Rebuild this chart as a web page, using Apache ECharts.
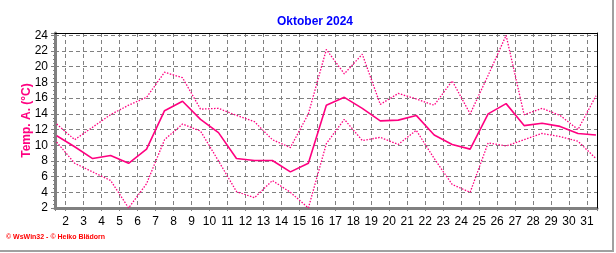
<!DOCTYPE html>
<html><head><meta charset="utf-8">
<script src="https://cdn.jsdelivr.net/npm/echarts@6/dist/echarts.min.js"></script>
<style>html,body{margin:0;padding:0;background:#fff}#c{width:616px;height:253px}</style>
</head><body><div id="c"></div>
<script>
const days = [1,2,3,4,5,6,7,8,9,10,11,12,13,14,15,16,17,18,19,20,21,22,23,24,25,26,27,28,29,30,31];
const tempMax  = [12.7,10.7,12.3,13.9,15.1,16.1,19.3,18.6,14.6,14.7,13.8,13.0,10.7,9.7,14.0,22.2,19.1,21.6,15.2,16.6,15.9,15.1,18.2,14.0,18.9,24.0,13.9,14.7,13.8,12.0,16.3];
const tempMean = [11.2,9.8,8.3,8.7,7.7,9.5,14.4,15.6,13.3,11.6,8.3,8.05,8.05,6.6,7.7,15.1,16.1,14.7,13.1,13.2,13.8,11.3,10.1,9.5,14.0,15.3,12.5,12.8,12.4,11.5,11.3];
const tempMin  = [10.4,7.7,6.6,5.5,2.0,5.1,10.7,12.7,11.8,8.0,4.1,3.3,5.5,4.0,2.0,10.2,13.3,10.6,11.0,10.1,11.9,8.3,5.0,4.0,10.3,9.9,10.7,11.5,11.1,10.5,8.3];
const xTickLabels = ['2','3','4','5','6','7','8','9','10','11','12','13','14','15','16','17','18','19','20','21','22','23','24','25','26','27','28','29','30','31'];
const yTickLabels = ['2','4','6','8','10','12','14','16','18','20','22','24'];
const titleText = 'Oktober 2024';
const yName = 'Temp. A. (°C)';
const credit = '\u00a9 WsWin32 - \u00a9 Heiko Bl\u00e4dorn';

const PINK = '#ff0080';
const GRID = '#808080';
const toPts = arr => days.map((d, i) => [d + 0.5, arr[i]]);

const chart = echarts.init(document.getElementById('c'), null, {renderer: 'canvas'});
chart.setOption({
  animation: false,
  backgroundColor: '#fff',
  textStyle: {fontFamily: 'Liberation Sans, Arial, sans-serif'},
  title: {
    text: titleText, left: 310, top: 11, textAlign: 'center',
    textStyle: {color: '#0000ff', fontSize: 12, fontWeight: 'bold', fontFamily: 'Liberation Sans, Arial, sans-serif'}
  },
  grid: {left: 55, right: 19, top: 33, bottom: 45, containLabel: false},
  xAxis: [{
    type: 'value', min: 1.406, max: 31.556, splitNumber: 30, minInterval: 1, maxInterval: 1,
    axisLine: {show: true, onZero: false, lineStyle: {color: GRID, width: 3}},
    axisTick: {show: true, length: 3, lineStyle: {color: GRID}},
    minorTick: {show: true, splitNumber: 6, length: 2, lineStyle: {color: GRID}},
    axisLabel: {
      color: '#000', fontSize: 12, margin: 8, showMinLabel: false, showMaxLabel: false,
      formatter: v => { const s = String(Math.round(v)); return (Math.abs(v - Math.round(v)) < 1e-6 && xTickLabels.indexOf(s) >= 0) ? s : ''; }
    },
    splitLine: {show: true, showMinLine: false, showMaxLine: false, lineStyle: {color: GRID, type: [4, 3], width: 1}}
  }, {
    type: 'value', position: 'top', min: 1.406, max: 31.556, z: 5,
    axisLine: {show: true, onZero: false, lineStyle: {color: '#000', width: 1}},
    axisTick: {show: false}, axisLabel: {show: false}, splitLine: {show: false}
  }],
  yAxis: [{
    type: 'value', min: 2, max: 24.3, interval: 2,
    name: yName, nameLocation: 'middle', nameGap: 22, nameRotate: 90, nameMoveOverlap: false,
    nameTextStyle: {color: PINK, fontSize: 12, fontWeight: 'bold'},
    axisLine: {show: true, onZero: false, lineStyle: {color: GRID, width: 3}},
    axisTick: {show: true, length: 4, lineStyle: {color: GRID}},
    minorTick: {show: true, splitNumber: 4, length: 2, lineStyle: {color: GRID}},
    axisLabel: {
      color: '#000', fontSize: 12, margin: 7, showMaxLabel: false,
      formatter: v => { const s = String(v); return yTickLabels.indexOf(s) >= 0 ? s : ''; }
    },
    splitLine: {show: true, showMinLine: false, showMaxLine: false, lineStyle: {color: GRID, type: [4, 3], width: 1}}
  }, {
    type: 'value', position: 'right', min: 2, max: 24.3, z: 5,
    axisLine: {show: true, onZero: false, lineStyle: {color: '#000', width: 1}},
    axisTick: {show: false}, axisLabel: {show: false}, splitLine: {show: false}
  }],
  series: [
    {type: 'line', name: 'max', data: toPts(tempMax), symbol: 'none', z: 3,
     lineStyle: {color: PINK, width: 1.3, type: [1.5, 1.5]}},
    {type: 'line', name: 'mean', data: toPts(tempMean), symbol: 'none', z: 4,
     lineStyle: {color: PINK, width: 1.6}},
    {type: 'line', name: 'min', data: toPts(tempMin), symbol: 'none', z: 3,
     lineStyle: {color: PINK, width: 1.3, type: [1.5, 1.5]}}
  ],
  graphic: [
    {type: 'text', left: 6, top: 234, style: {text: credit, fill: '#ff0000', font: 'bold 7px Liberation Sans, Arial, sans-serif'}},
    {type: 'line', shape: {x1: 0, y1: 251, x2: 614, y2: 251}, style: {stroke: '#a0a0a0', lineWidth: 2}},
    {type: 'line', shape: {x1: 613, y1: 0, x2: 613, y2: 252}, style: {stroke: '#a0a0a0', lineWidth: 2}}
  ]
});
</script></body></html>
